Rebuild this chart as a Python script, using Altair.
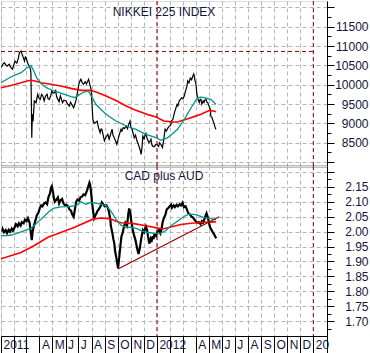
import altair as alt
import pandas as pd

BASE = pd.Timestamp("2011-01-01")  # day numbers below are calendar days since this date

# ---- NIKKEI 225: (day, close) ----
nikkei_close = [(1,10450),(5,10540),(8,10570),(12,10500),(14,10480),(19,10530),(23,10450),(27,10400),(30,10520),(33,10610),
(37,10560),(41,10700),(43,10830),(47,10870),(49,10800),(51,10740),(55,10610),(57,10720),(59,10700),(62,10570),(66,10480),
(69,10400),(70,10310),(71,9620),(72,8630),(73,9100),(74,9235),(75,9050),(78,9580),(82,9535),(86,9750),(89,9650),(92,9620),
(95,9750),(98,9710),(101,9580),(104,9700),(108,9750),(110,9640),(113,9620),(116,9700),(119,9840),(122,9790),(125,9790),
(128,9850),(130,9700),(133,9620),(136,9560),(139,9710),(142,9600),(144,9535),(147,9600),(152,9580),(156,9500),(160,9450),
(163,9550),(165,9500),(170,9405),(173,9500),(176,9620),(179,9800),(182,10010),(185,10100),(187,10140),(190,10050),(193,10010),
(197,10080),(200,10020),(205,10140),(208,10000),(211,9880),(213,9500),(215,9105),(218,9000),(221,9020),(225,9060),(228,8900),
(232,8760),(234,8850),(236,8850),(239,8700),(242,8550),(246,8650),(250,8720),(253,8590),(256,8700),(260,8850),(262,8700),
(265,8630),(268,8550),(271,8460),(274,8580),(275,8630),(278,8750),(281,8850),(283,8800),(286,8890),(289,8870),(293,8930),
(296,8860),(298,8950),(302,9060),(304,8900),(307,8850),(309,8750),(312,8630),(315,8700),(318,8550),(321,8480),(324,8370),
(326,8300),(328,8200),(330,8380),(332,8670),(335,8600),(337,8680),(339,8760),(342,8600),(343,8590),(346,8500),(349,8544),
(351,8590),(353,8450),(356,8400),(359,8400),(362,8450),(365,8450),(369,8400),(371,8500),(374,8460),(378,8380),(381,8590),
(384,8850),(387,8800),(390,8870),(394,8930),(397,8950),(399,9060),(402,9100),(406,9280),(408,9350),(412,9490),(414,9450),
(417,9580),(420,9620),(423,9660),(426,9640),(429,9710),(431,9800),(433,9880),(435,9950),(437,10100),(440,10050),(443,10170),
(446,10130),(449,10220),(451,10280),(453,10200),(454,10100),(456,10050),(458,9800),(460,9660),(462,9600),(464,9540),
(466,9620),(468,9620),(470,9500),(473,9580),(475,9540),(477,9600),(480,9620),(482,9550),(484,9530),(490,9360),(491,9190),
(494,9150),(495,9100),(497,9050),(499,8980),(501,8900),(503,8850)]

nikkei_ma50 = [(0,10050),(23,10200),(47,10311),(61,10440),(70,10500),(77,10350),(84,10170),(94,10030),(105,9930),(117,9870),
(140,9780),(164,9690),(173,9670),(182,9730),(194,9810),(204,9840),(213,9680),(222,9493),(234,9360),(246,9235),(269,9061),
(293,8932),(316,8847),(339,8717),(363,8630),(374,8562),(390,8630),(402,8740),(413,8847),(429,9105),(445,9405),(460,9664),
(468,9680),(475,9664),(491,9623),(503,9493)]

nikkei_ma200 = [(0,9920),(23,9980),(47,10050),(59,10090),(70,10115),(82,10090),(94,10050),(117,10010),(140,9965),(164,9905),
(187,9855),(211,9855),(227,9790),(246,9710),(269,9590),(293,9450),(311,9360),(332,9275),(346,9220),(363,9165),(381,9060),
(398,9040),(413,9035),(437,9120),(452,9175),(468,9235),(487,9330),(498,9320),(503,9300)]

nikkei_high = 10860

# ---- CAD plus AUD ----
cad_aud = [(3,2.000),(4,2.008),(7,1.998),(11,2.005),(14,1.995),(18,2.006),(21,2.000),(25,2.010),(28,2.003),(32,2.015),
(35,2.025),(39,2.018),(42,2.028),(46,2.020),(49,2.032),(53,2.028),(56,2.040),(60,2.035),(63,2.045),(67,2.030),(69,2.005),
(72,1.972),(74,2.000),(77,2.020),(81,2.040),(84,2.055),(88,2.065),(91,2.080),(94,2.088),(97,2.085),(101,2.095),(104,2.098),
(108,2.092),(111,2.115),(115,2.130),(117,2.148),(119,2.153),(122,2.130),(124,2.110),(126,2.100),(130,2.108),(133,2.115),
(136,2.095),(139,2.105),(143,2.110),(146,2.095),(150,2.088),(153,2.090),(157,2.085),(160,2.075),(164,2.070),(166,2.060),
(170,2.050),(173,2.075),(176,2.100),(179,2.108),(183,2.105),(186,2.115),(190,2.118),(193,2.125),(197,2.122),(201,2.137),
(204,2.150),(207,2.164),(209,2.155),(211,2.130),(213,2.098),(216,2.064),(218,2.045),(221,2.055),(223,2.060),(226,2.070),
(229,2.075),(233,2.085),(236,2.098),(240,2.090),(243,2.085),(247,2.088),(250,2.080),(253,2.064),(256,2.040),(257,2.020),
(260,2.000),(261,1.992),(263,1.975),(265,1.962),(267,1.935),(270,1.912),(272,1.895),(274,1.877),(277,1.918),(280,1.960),
(282,1.985),(285,1.997),(288,2.018),(291,2.030),(295,2.020),(298,2.060),(300,2.078),(303,2.060),(305,2.035),(308,2.010),
(310,1.995),(312,1.985),(315,1.970),(317,1.955),(320,1.935),(322,1.925),(325,1.945),(328,1.975),(332,2.005),(335,1.998),
(337,2.010),(339,2.018),(342,2.005),(344,1.985),(347,1.960),(350,1.975),(352,1.965),(355,1.985),(357,1.975),(359,1.990),
(363,1.985),(366,2.000),(370,2.005),(373,1.995),(376,2.010),(378,2.030),(381,2.045),(385,2.058),(388,2.075),(392,2.080),
(395,2.085),(398,2.090),(400,2.080),(404,2.088),(407,2.082),(411,2.090),(414,2.085),(418,2.092),(421,2.088),(425,2.097),
(428,2.082),(432,2.085),(435,2.075),(439,2.060),(442,2.058),(446,2.050),(449,2.048),(453,2.040),(456,2.035),(460,2.030),
(463,2.032),(467,2.025),(470,2.035),(473,2.030),(476,2.042),(479,2.055),(481,2.062),(484,2.048),(486,2.035),(488,2.022),
(490,2.012),(493,2.005),(495,2.000),(497,1.995),(500,1.988),(502,1.982),(504,1.978)]

cad_ma50 = [(0,1.986),(23,1.988),(47,1.999),(70,2.011),(77,2.020),(94,2.042),(110,2.064),(122,2.078),(140,2.083),(157,2.084),
(176,2.087),(187,2.100),(199,2.092),(211,2.098),(234,2.092),(246,2.087),(257,2.070),(269,2.042),(281,2.022),(293,2.014),
(304,2.015),(316,2.011),(339,1.998),(363,1.994),(374,1.995),(386,2.004),(398,2.020),(414,2.036),(428,2.051),(440,2.059),
(456,2.057),(475,2.047),(491,2.044),(503,2.040)]

cad_ma200 = [(0,1.909),(47,1.930),(77,1.953),(110,1.981),(140,1.997),(171,2.014),(187,2.024),(215,2.042),(234,2.046),
(257,2.043),(269,2.035),(281,2.030),(311,2.027),(339,2.020),(367,2.012),(381,2.010),(398,2.016),(421,2.024),(445,2.028),
(468,2.031),(498,2.033),(503,2.033)]

cad_trend = [(274,1.875),(511,2.050)]

year_marks = ["2012-01-01", "2013-01-01"]
titles = ["NIKKEI 225 INDEX", "CAD plus AUD"]

# ---- styling ----
FONT = "Liberation Sans"
TXT = "#14143a"
BLACK, TEAL, RED, DKRED = "#000000", "#00968a", "#ff0000", "#990000"
GRID = "#b4b4b4"


def frame(pairs, name):
    return pd.DataFrame({
        "date": [BASE + pd.Timedelta(days=d) for d, _ in pairs],
        "value": [v for _, v in pairs],
        "series": name,
    })


def dt(y, m, d):
    return alt.DateTime(year=y, month=m, date=d)


month_vals = [dt(2011 + (i // 12), i % 12 + 1, 1) for i in range(25)]
x_end = dt(2013, 2, 2)
x_scale = alt.Scale(domain=[dt(2011, 1, 1), x_end])

series_scale = alt.Scale(domain=["close", "ma50", "ma200", "trend"], range=[BLACK, TEAL, RED, DKRED])

marks_df = pd.DataFrame({"date": pd.to_datetime(year_marks)})


def panel(frames, ytick_vals, ydomain, major_test, label_expr, title, height, bottom, close_width):
    df = pd.concat(frames, ignore_index=True)
    if bottom:
        xaxis = alt.Axis(title=None, values=month_vals + [x_end], grid=True, gridColor=GRID, gridDash=[4, 3],
                         gridWidth=1, tickSize=18, tickColor="black", domainColor="black", domainWidth=1,
                         labelAlign="left", labelBaseline="top", labelPadding=-15, labelOffset=2,
                         labelFont=FONT, labelFontSize=12, labelColor=TXT, labelOverlap=False,
                         labelFlush=False, labelBound=False,
                         labelExpr="month(datum.value) == 0 ? (year(datum.value) == 2013 ? '20' : timeFormat(datum.value, '%Y')) : (month(datum.value) <= 2 ? '' : slice(timeFormat(datum.value, '%b'), 0, 1))")
    else:
        xaxis = alt.Axis(title=None, values=month_vals, grid=True, gridColor=GRID, gridDash=[4, 3], gridWidth=1,
                         ticks=False, labels=False, domain=True, domainColor="black", domainWidth=1.6)
    yaxis = alt.Axis(title=None, orient="right", values=ytick_vals, grid=True, gridColor=GRID, gridDash=[4, 3],
                     gridOpacity={"condition": {"test": major_test, "value": 1}, "value": 0},
                     tickSize={"condition": {"test": major_test, "value": 7}, "value": 4},
                     tickColor="black", domainColor="black", labelAlign="right", labelPadding=34,
                     labelFont=FONT, labelFontSize=12, labelColor=TXT, labelExpr=label_expr,
                     labelOverlap=False, labelBound=False, labelFlush=False)
    X = alt.X("date:T", scale=x_scale, axis=xaxis)
    Y = alt.Y("value:Q", scale=alt.Scale(domain=ydomain, nice=False, zero=False), axis=yaxis)
    color = alt.Color("series:N", scale=series_scale, legend=None)

    base = alt.Chart(df)
    close = base.transform_filter("datum.series == 'close'").mark_line(strokeWidth=close_width, clip=True).encode(x=X, y=Y, color=color)
    ma200 = base.transform_filter("datum.series == 'ma200'").mark_line(strokeWidth=1.6, clip=True).encode(x=X, y=Y, color=color)
    ma50 = base.transform_filter("datum.series == 'ma50'").mark_line(strokeWidth=1.3, clip=True).encode(x=X, y=Y, color=color)
    trend = base.transform_filter("datum.series == 'trend'").mark_line(strokeWidth=1.2, clip=True).encode(x=X, y=Y, color=color)
    vlines = alt.Chart(marks_df).mark_rule(color=DKRED, strokeDash=[4, 3], strokeWidth=1).encode(x=X)
    ttl = alt.Chart(pd.DataFrame({"t": [title]})).mark_text(
        font=FONT, fontSize=12, color=TXT, align="center", baseline="alphabetic").encode(
        text="t:N", x=alt.value(163), y=alt.value(15 if not bottom else 14))
    return [close, ma200, ma50, trend, vlines, ttl], X, Y


top_layers, TX, TY = panel(
    [frame(nikkei_close, "close"), frame(nikkei_ma50, "ma50"), frame(nikkei_ma200, "ma200")],
    list(range(8000, 12001, 250)), [7898, 12165], "datum.value % 500 === 0",
    "datum.value % 500 === 0 && datum.value >= 8500 && datum.value <= 11500 ? format(datum.value, 'd') : ''",
    titles[0], 165, False, 1.2)

high_df = pd.DataFrame({"date": [BASE], "end": pd.to_datetime(["2013-01-01"]), "value": [nikkei_high]})
high_rule = alt.Chart(high_df).mark_rule(color=DKRED, strokeDash=[4, 3], strokeWidth=1).encode(
    x=TX, x2="end:T", y=TY)

top = alt.layer(*top_layers, high_rule).properties(width=326, height=165)

bottom_ticks = [round(1.65 + 0.025 * i, 3) for i in range(23)]
bot_layers, BX, BY = panel(
    [frame(cad_aud, "close"), frame(cad_ma50, "ma50"), frame(cad_ma200, "ma200"), frame(cad_trend, "trend")],
    bottom_ticks, [1.6502, 2.2202], "abs(datum.value * 20 - round(datum.value * 20)) < 0.01",
    "abs(datum.value * 20 - round(datum.value * 20)) < 0.01 && datum.value > 1.69 && datum.value < 2.16 ? format(datum.value, '.2f') : ''",
    titles[1], 170, True, 2.2)

bottom = alt.layer(*bot_layers).properties(width=326, height=170)

chart = alt.vconcat(top, bottom, spacing=0, bounds="flush").properties(padding=0, background="white").configure_view(
    stroke=None).configure(font=FONT)

chart.save("out.html", embed_options={"renderer": "svg", "actions": False})
